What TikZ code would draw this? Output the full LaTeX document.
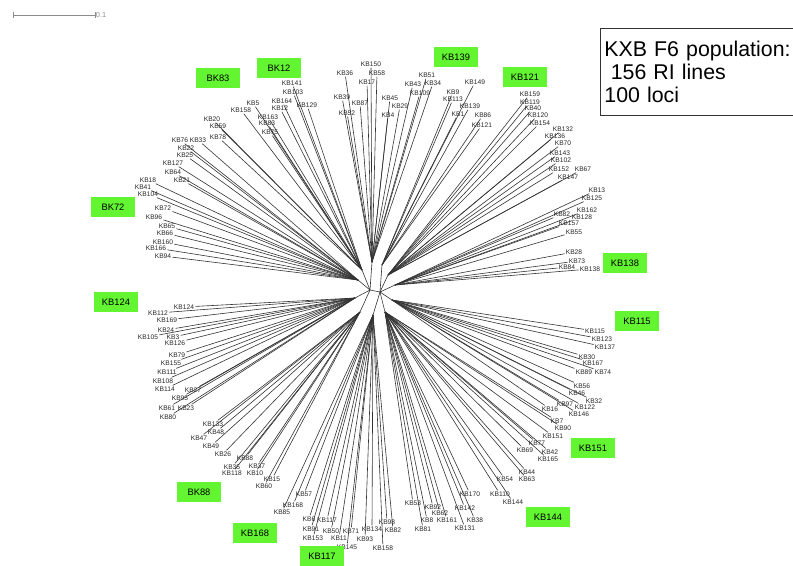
\documentclass[tikz,border=0pt]{standalone}
\usepackage{fontspec}
\setmainfont{Liberation Sans}
\definecolor{kgreen}{RGB}{100,245,50}
\tikzset{
  leaf/.style={font=\fontsize{5}{5}\selectfont, text=black!85, inner sep=0.8pt},
  br/.style={black!80, line width=0.45pt},
  gbox/.style={fill=kgreen, font=\fontsize{7}{7}\selectfont, minimum width=33pt, minimum height=15pt, inner sep=0pt},
  info/.style={draw=black!80, line width=0.6pt, font=\fontsize{16}{17.25}\selectfont, align=left, text width=145pt, inner xsep=3pt, minimum height=65pt, anchor=north west}
}
\begin{document}
\begin{tikzpicture}[x=0.75pt,y=-0.75pt]
\useasboundingbox (0,0) rectangle (793,565);
% scale bar
\coordinate (s1) at (13,15);
\coordinate (s2) at (95,15);
\draw[black!45, line width=0.5pt] (s1) -- (s2);
\draw[black!45, line width=0.5pt] ([yshift=2pt]s1) -- ([yshift=-2pt]s1);
\draw[black!45, line width=0.5pt] ([yshift=2pt]s2) -- ([yshift=-2pt]s2);
\node[anchor=west, inner sep=0.5pt, text=black!45, font=\fontsize{5.5}{6}\selectfont] (sl) at (s2) {0.1};
% internal structure
\coordinate (c1) at (370,290);
\coordinate (c2) at (380,292);
\coordinate (ha) at (362,270);
\coordinate (hb) at (358,280);
\coordinate (hc) at (372,262);
\coordinate (hd) at (382,265);
\coordinate (he) at (388,275);
\coordinate (hf) at (395,285);
\coordinate (hg) at (392,300);
\coordinate (hh) at (385,312);
\coordinate (hi) at (373,315);
\coordinate (hj) at (360,312);
\coordinate (hk) at (355,298);
\draw[br] (c1) -- (c2);
\foreach \h in {ha,hb,hc,hj,hk} \draw[br] (c1) -- (\h);
\foreach \h in {hd,he,hf,hg,hh,hi} \draw[br] (c2) -- (\h);
% leaves
\foreach \x/\y/\t/\h [count=\i] in {
253/103/KB5/ha, 241/110/KB158/ha, 282/101/KB164/ha, 280/108/KB12/ha, 307/105/KB129/ha, 268/117/KB163/ha, 267/123/KB83/ha, 270/132/KB75/ha, 212/119/KB20/ha, 218/126/KB59/ha, 218/137/KB78/ha, 292/83/KB141/ha, 293/92/KB103/ha,
180/140/KB76/hb, 198/140/KB33/hb, 186/148/KB22/hb, 185/155/KB25/hb, 173/163/KB127/hb, 173/172/KB64/hb, 182/180/KB21/hb, 148/180/KB18/hb, 143/187/KB41/hb, 148/194/KB104/hb, 163/208/KB72/hb, 154/217/KB96/hb, 167/226/KB65/hb, 165/233/KB66/hb, 163/242/KB160/hb, 156/248/KB166/hb, 163/256/KB94/hb,
371/64/KB150/hc, 345/73/KB36/hc, 377/73/KB58/hc, 367/82/KB17/hc, 342/97/KB39/hc, 360/103/KB87/hc, 347/113/KB52/hc, 390/98/KB45/hc, 400/106/KB29/hc, 388/115/KB4/hc, 427/75/KB51/hc, 413/84/KB43/hc, 433/83/KB34/hc, 420/93/KB109/hc,
475/82/KB149/hd, 453/92/KB9/hd, 453/99/KB113/hd, 470/106/KB139/hd, 458/114/KB1/hd, 483/115/KB86/hd, 482/125/KB121/hd,
530/94/KB159/he, 530/102/KB119/he, 533/108/KB40/he, 538/115/KB120/he, 540/123/KB154/he, 563/129/KB132/he, 555/136/KB136/he, 563/143/KB70/he, 560/153/KB143/he, 561/160/KB102/he, 559/169/KB152/he, 583/169/KB67/he, 568/177/KB147/he,
597/190/KB13/hf, 592/198/KB125/hf, 587/210/KB162/hf, 562/214/KB82/hf, 582/217/KB128/hf, 569/223/KB157/hf, 574/232/KB55/hf, 574/252/KB28/hf, 577/261/KB73/hf, 567/267/KB84/hf, 590/269/KB138/hf,
595/331/KB115/hg, 602/339/KB123/hg, 605/347/KB137/hg, 587/357/KB30/hg, 593/363/KB167/hg, 584/372/KB89/hg, 603/372/KB74/hg, 582/386/KB56/hg, 577/393/KB46/hg, 594/401/KB32/hg, 565/404/KB97/hg, 585/407/KB122/hg, 550/409/KB16/hg, 579/414/KB146/hg,
557/421/KB7/hh, 563/428/KB90/hh, 553/436/KB151/hh, 537/443/KB77/hh, 525/450/KB69/hh, 550/452/KB42/hh, 548/459/KB165/hh, 527/472/KB44/hh, 527/479/KB63/hh, 505/479/KB54/hh, 470/494/KB170/hh, 500/494/KB110/hh, 513/502/KB144/hh, 465/508/KB142/hh, 475/520/KB38/hh, 465/528/KB131/hh, 447/520/KB161/hh, 440/513/KB62/hh, 433/507/KB92/hh, 413/503/KB53/hh, 427/520/KB8/hh, 423/529/KB81/hh,
387/522/KB98/hi, 393/530/KB82/hi, 372/529/KB134/hi, 365/539/KB93/hi, 383/548/KB158/hi, 351/531/KB71/hi, 347/547/KB145/hi, 339/538/KB11/hi, 331/531/KB50/hi, 327/520/KB117/hi, 313/538/KB153/hi, 311/529/KB91/hi, 309/519/KB6/hi, 304/494/KB57/hi, 293/505/KB168/hi, 282/512/KB85/hi,
272/479/KB15/hj, 264/486/KB60/hj, 257/466/KB37/hj, 255/473/KB10/hj, 245/458/KB88/hj, 232/467/KB35/hj, 232/473/KB118/hj, 223/454/KB26/hj, 211/446/KB49/hj, 199/438/KB47/hj, 216/432/KB48/hj, 213/424/KB133/hj,
184/307/KB124/hk, 158/313/KB112/hk, 167/320/KB169/hk, 166/330/KB24/hk, 148/337/KB105/hk, 173/337/KB3/hk, 175/343/KB126/hk, 177/355/KB79/hk, 171/363/KB155/hk, 167/372/KB111/hk, 163/381/KB108/hk, 165/389/KB114/hk, 193/390/KB27/hk, 180/398/KB95/hk, 167/408/KB61/hk, 186/408/KB23/hk, 168/417/KB80/hk}
{
  \node[leaf] (n\i) at (\x,\y) {\t};
  \draw[br] (\h) -- (n\i);
}
% green cluster labels
\foreach \x/\y/\t [count=\i] in {218/78/BK83, 279/68/BK12, 456/57/KB139, 525/77/KB121, 113/207/BK72, 625/263/KB138, 116/302/KB124, 637/321/KB115, 593/448/KB151, 548/517/KB144, 199/492/BK88, 255/533/KB168, 322/556/KB117}
  \node[gbox] (g\i) at (\x,\y) {\t};
% info box
\node[info] (info) at (600,28) {KXB F6 population:\\\hspace{0.3em}156 RI lines\\100 loci};
\end{tikzpicture}
\end{document}
